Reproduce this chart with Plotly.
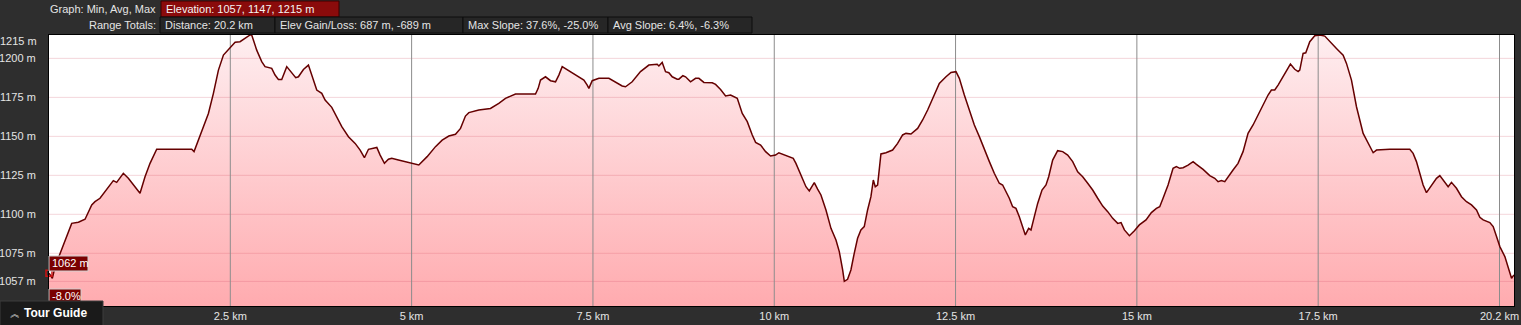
import plotly.graph_objects as go

# ---------------- data ----------------
dist_km = [
    0.000, 0.046, 0.083, 0.152, 0.221, 0.313, 0.405, 0.497, 0.589, 0.634,
    0.703, 0.795, 0.887, 0.933, 1.025, 1.094, 1.186, 1.255, 1.324, 1.393,
    1.485, 1.692, 1.968, 2.000, 2.060, 2.129, 2.198, 2.267, 2.336, 2.405,
    2.497, 2.566, 2.634, 2.703, 2.772, 2.795, 2.864, 2.933, 2.979, 3.071,
    3.117, 3.163, 3.209, 3.278, 3.347, 3.402, 3.439, 3.508, 3.577, 3.623,
    3.692, 3.761, 3.807, 3.899, 3.945, 4.037, 4.129, 4.221, 4.290, 4.349,
    4.405, 4.520, 4.566, 4.625, 4.680, 4.726, 4.818, 4.956,
    5.007, 5.099, 5.214, 5.329, 5.421, 5.513, 5.605, 5.674, 5.742, 5.789,
    5.926, 6.087, 6.202, 6.294, 6.432, 6.708, 6.745, 6.777, 6.846, 6.915,
    6.984, 7.030, 7.076, 7.168, 7.260, 7.375, 7.421, 7.444, 7.490, 7.582,
    7.720, 7.811, 7.903, 7.949, 8.041, 8.156, 8.271, 8.386, 8.409, 8.455,
    8.501, 8.547, 8.593, 8.662, 8.685, 8.740, 8.777, 8.846, 8.915, 8.961,
    9.030, 9.145, 9.191, 9.260, 9.329, 9.398, 9.490, 9.559, 9.628, 9.697,
    9.743, 9.812, 9.881, 9.949, 10.018, 10.064,
    10.138, 10.207, 10.262, 10.299, 10.368, 10.437, 10.483, 10.529, 10.552, 10.598,
    10.644, 10.713, 10.782, 10.851, 10.897, 10.943, 10.966, 11.011, 11.057, 11.103,
    11.149, 11.195, 11.241, 11.287, 11.333, 11.366, 11.393, 11.425, 11.471, 11.540,
    11.632, 11.701, 11.770, 11.816, 11.885, 11.977, 12.046, 12.115, 12.184, 12.230,
    12.276, 12.368, 12.437, 12.506, 12.552, 12.621, 12.690, 12.759, 12.828, 12.897,
    12.966, 13.034, 13.103, 13.149, 13.195, 13.241, 13.287, 13.333, 13.379, 13.425,
    13.462, 13.508, 13.540, 13.586, 13.632, 13.692, 13.747, 13.784, 13.839, 13.908,
    13.977, 14.046, 14.115, 14.184, 14.253, 14.322, 14.391, 14.460, 14.529, 14.598,
    14.667, 14.736, 14.782, 14.828, 14.897, 14.966, 15.034, 15.126,
    15.200, 15.269, 15.315, 15.361, 15.430, 15.499, 15.545, 15.591, 15.637, 15.706,
    15.775, 15.821, 15.913, 16.005, 16.074, 16.120, 16.166, 16.212, 16.258, 16.326,
    16.395, 16.464, 16.533, 16.602, 16.671, 16.740, 16.809, 16.855, 16.901, 16.947,
    17.016, 17.062, 17.117, 17.177, 17.223, 17.246, 17.292, 17.329, 17.384, 17.453,
    17.522, 17.591, 17.660, 17.752, 17.844, 17.890, 17.959, 18.028, 18.120, 18.189,
    18.258, 18.304, 18.487, 18.763, 18.809, 18.855, 18.901, 18.947, 18.993, 19.062,
    19.131, 19.177, 19.246, 19.292, 19.338, 19.407, 19.476, 19.545, 19.614, 19.683,
    19.729, 19.775, 19.867, 19.913, 19.959, 20.005, 20.074, 20.120, 20.166, 20.189,
    20.200,
]

elev_m = [
    1062.2, 1059.0, 1066.4, 1075.0, 1083.5, 1094.2, 1094.9, 1096.8, 1106.0, 1108.1,
    1110.3, 1115.6, 1121.6, 1120.5, 1126.3, 1123.1, 1117.7, 1113.5, 1124.1, 1132.7,
    1141.7, 1141.7, 1141.7, 1140.2, 1147.6, 1155.1, 1164.7, 1177.6, 1192.5, 1202.1,
    1206.4, 1210.3, 1210.7, 1212.8, 1215.0, 1215.0, 1205.3, 1197.9, 1194.7, 1193.6,
    1189.3, 1186.5, 1186.5, 1194.7, 1190.4, 1187.6, 1188.2, 1192.9, 1195.7, 1189.3,
    1179.7, 1177.6, 1173.3, 1168.6, 1164.7, 1156.2, 1149.8, 1145.5, 1141.2, 1136.3,
    1141.7, 1142.9, 1138.0, 1132.7, 1135.3, 1135.9, 1134.8, 1133.3,
    1132.3, 1131.6, 1137.0, 1143.4, 1147.6, 1150.2, 1151.3, 1155.1, 1163.0, 1165.2,
    1166.9, 1167.9, 1171.2, 1174.4, 1177.1, 1177.1, 1180.8, 1186.1, 1188.2, 1185.7,
    1185.0, 1189.3, 1194.7, 1192.1, 1189.3, 1186.1, 1182.9, 1180.8, 1185.7, 1187.2,
    1187.2, 1185.0, 1182.3, 1181.8, 1185.0, 1191.5, 1195.7, 1196.2, 1195.1, 1197.4,
    1191.5, 1190.8, 1188.2, 1186.7, 1186.7, 1188.9, 1188.2, 1185.0, 1187.2, 1187.2,
    1184.6, 1184.4, 1183.3, 1180.1, 1175.9, 1176.5, 1174.4, 1164.7, 1159.4, 1150.9,
    1146.1, 1144.4, 1140.2, 1137.4, 1138.0, 1139.5,
    1138.0, 1136.5, 1135.9, 1132.7, 1125.2, 1117.7, 1115.0, 1118.8, 1120.3, 1116.2,
    1112.4, 1102.8, 1091.0, 1083.5, 1076.1, 1064.3, 1057.0, 1058.3, 1064.3, 1075.0,
    1084.6, 1090.0, 1092.1, 1102.8, 1111.3, 1122.0, 1117.7, 1118.8, 1138.7, 1139.5,
    1141.2, 1145.5, 1150.9, 1151.9, 1151.5, 1155.1, 1160.5, 1166.9, 1174.4, 1179.7,
    1184.0, 1188.2, 1191.0, 1191.5, 1187.2, 1176.5, 1166.9, 1157.3, 1149.8, 1141.2,
    1133.8, 1126.3, 1119.9, 1118.8, 1114.5, 1110.3, 1104.9, 1103.8, 1098.5, 1092.1,
    1086.8, 1091.0, 1090.0, 1098.5, 1107.0, 1115.6, 1118.8, 1124.1, 1134.8, 1140.8,
    1140.2, 1138.0, 1133.8, 1127.3, 1124.1, 1119.9, 1115.6, 1110.3, 1105.3, 1101.7,
    1097.4, 1094.2, 1094.7, 1090.0, 1086.3, 1089.5, 1093.2, 1096.4,
    1101.1, 1103.8, 1104.9, 1110.3, 1118.8, 1129.5, 1130.6, 1129.5, 1129.9, 1131.6,
    1133.8, 1132.0, 1128.8, 1124.8, 1123.1, 1120.9, 1121.6, 1120.9, 1124.1, 1128.4,
    1132.7, 1140.2, 1151.9, 1157.3, 1163.7, 1170.1, 1176.5, 1179.7, 1179.7, 1182.9,
    1188.2, 1191.5, 1196.4, 1193.0, 1191.5, 1192.5, 1203.2, 1203.6, 1210.7, 1214.5,
    1215.0, 1214.3, 1210.7, 1206.4, 1202.1, 1196.8, 1186.1, 1169.0, 1151.9, 1145.5,
    1139.5, 1141.2, 1141.7, 1141.7, 1139.1, 1133.8, 1126.3, 1118.8, 1113.9, 1118.8,
    1123.1, 1124.8, 1120.9, 1117.7, 1120.5, 1116.7, 1111.3, 1108.1, 1106.0, 1102.8,
    1098.1, 1096.4, 1094.7, 1092.1, 1085.7, 1079.3, 1072.9, 1066.4, 1059.0, 1060.5,
    1061.1,
]

y_tick_vals = [1057, 1075, 1100, 1125, 1150, 1175, 1200]
y_top_val = 1215
x_tick_vals = [2.5, 5, 7.5, 10, 12.5, 15, 17.5, 20]
x_tick_text = ["2.5 km", "5 km", "7.5 km", "10 km", "12.5 km", "15 km", "17.5 km", "20.2 km"]

header_row1_label = "Graph: Min, Avg, Max"
header_row1_box = "Elevation: 1057, 1147, 1215 m"
header_row2_label = "Range Totals:"
header_row2_boxes = [
    "Distance: 20.2 km",
    "Elev Gain/Loss: 687 m, -689 m",
    "Max Slope: 37.6%, -25.0%",
    "Avg Slope: 6.4%, -6.3%",
]
cursor_slope_text = "-8.0%"

# ---------------- layout helpers ----------------
W, H = 1521, 325
L, R, T, B = 49, 7, 35, 19
PW, PH = W - L - R, H - T - B
X_MAX = 20.2
Y_MIN, Y_MAX = 1041.2, 1215.0


def px(x):
    return (x - L) / PW


def py(y):
    return (T + PH - y) / PH


FONT = "Arial, Liberation Sans, sans-serif"
TXT = "#e4e4e4"
FS = 11

fig = go.Figure()

# filled area with vertical gradient
fig.add_trace(go.Scatter(
    x=dist_km, y=elev_m, mode="lines", line=dict(width=0, color="rgba(0,0,0,0)"),
    fill="tozeroy",
    fillgradient=dict(type="vertical", colorscale=[[0, "#ffabaf"], [1, "#feeef0"]],
                      start=Y_MIN, stop=Y_MAX),
    hoverinfo="skip", showlegend=False,
))

# horizontal grid lines (over fill)
hx, hy = [], []
for v in y_tick_vals:
    hx += [0, X_MAX, None]
    hy += [v, v, None]
fig.add_trace(go.Scatter(x=hx, y=hy, mode="lines",
                         line=dict(color="rgba(205,70,90,0.22)", width=1),
                         hoverinfo="skip", showlegend=False))

# vertical grid lines
vx, vy = [], []
for v in x_tick_vals:
    vx += [v, v, None]
    vy += [Y_MIN, Y_MAX, None]
fig.add_trace(go.Scatter(x=vx, y=vy, mode="lines",
                         line=dict(color="#8c8c8c", width=1),
                         hoverinfo="skip", showlegend=False))

# elevation line
fig.add_trace(go.Scatter(x=dist_km, y=elev_m, mode="lines",
                         line=dict(color="#650000", width=1.5),
                         hoverinfo="skip", showlegend=False))

# cursor marker
fig.add_trace(go.Scatter(x=[dist_km[0]], y=[elev_m[0]], mode="markers",
                         marker=dict(symbol="square-open", size=6, color="#d01010",
                                     line=dict(width=1.5)),
                         hoverinfo="skip", showlegend=False, cliponaxis=False))

shapes = []
annotations = []


def box(x0, y0, x1, y1, fill, line):
    shapes.append(dict(type="rect", xref="paper", yref="paper",
                       x0=px(x0), x1=px(x1), y0=py(y1), y1=py(y0),
                       fillcolor=fill, line=dict(color=line, width=1), layer="above"))


def text(x, y, s, anchor="left", color=TXT, size=FS, bold=False):
    if bold:
        s = "<b>" + s + "</b>"
    annotations.append(dict(xref="paper", yref="paper", x=px(x), y=py(y), text=s,
                            showarrow=False, xanchor=anchor, yanchor="middle",
                            font=dict(family=FONT, size=size, color=color)))


# header row 1
text(48, 9, header_row1_label, anchor="left")
box(161, 1, 339, 17, "#8a0b0b", "#3a0000")
text(164, 9, header_row1_box, color="#f4f4f4")

# header row 2
text(158, 25, header_row2_label, anchor="right")
edges = [160, 275, 463, 608, 752]
for i, s in enumerate(header_row2_boxes):
    box(edges[i], 17, edges[i + 1], 33, "#262626", "#0c0c0c")
    text(edges[i] + 3, 25, s)

# top y label (shifted inside)
annotations.append(dict(xref="paper", yref="y", x=0, y=y_top_val, text=f"{y_top_val} m",
                        showarrow=False, xanchor="right", yanchor="middle", xshift=-10,
                        yshift=-6, font=dict(family=FONT, size=FS, color=TXT)))

# cursor labels
box(49, 256, 88, 271, "#7a0000", "#cfcfcf")
text(50, 263, f"{elev_m[0]:.0f} m", color="#ffffff")
box(49, 289, 81, 303, "#7a0000", "#cfcfcf")
text(50, 296, cursor_slope_text, color="#ffffff")

# tour guide button
box(0, 301, 103, 326, "#1a1a1a", "#3c3c3c")
text(8, 313, "︽", color="#dddddd", size=10)
text(22, 313, "Tour Guide", color="#ffffff", size=12, bold=True)

fig.update_layout(
    width=W, height=H,
    margin=dict(l=L, r=R, t=T, b=B, pad=0, autoexpand=False),
    paper_bgcolor="#2e2e2e",
    plot_bgcolor="#ffffff",
    showlegend=False,
    shapes=shapes,
    annotations=annotations,
    xaxis=dict(range=[0, X_MAX], showgrid=False, zeroline=False, automargin=False,
               tickmode="array", tickvals=x_tick_vals, ticktext=x_tick_text,
               ticks="", tickfont=dict(family=FONT, size=FS, color=TXT),
               showline=True, mirror=True, linecolor="#000000", linewidth=1,
               fixedrange=True),
    yaxis=dict(range=[Y_MIN, Y_MAX], showgrid=False, zeroline=False, automargin=False,
               tickmode="array", tickvals=y_tick_vals,
               ticktext=[f"{v} m" for v in y_tick_vals],
               ticks="", ticklabelstandoff=10,
               tickfont=dict(family=FONT, size=FS, color=TXT),
               showline=True, mirror=True, linecolor="#000000", linewidth=1,
               fixedrange=True),
)

fig.write_html("out.html", config={"displayModeBar": False})
